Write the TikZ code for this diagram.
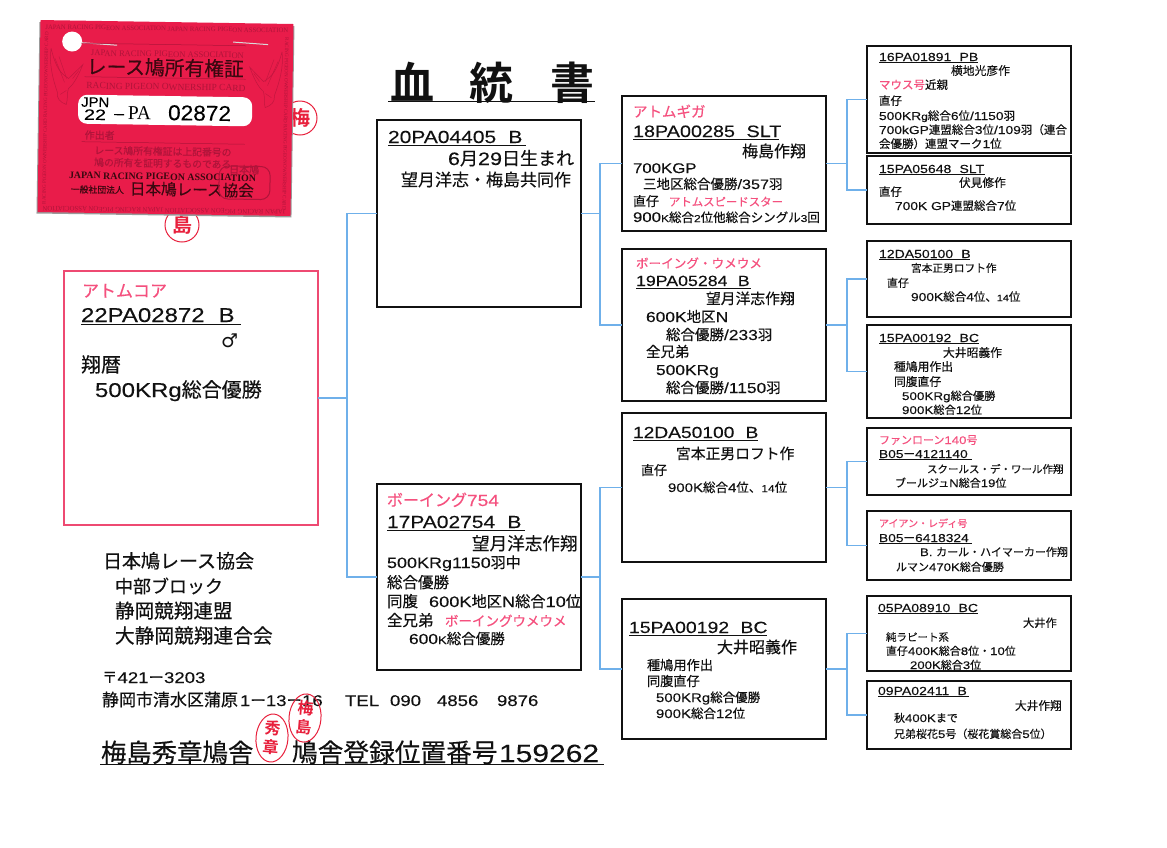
\documentclass[tikz,border=0pt]{standalone}
\usepackage{graphicx}
\usepackage{fontspec}
\usetikzlibrary{shapes.geometric}
\setmainfont{Liberation Sans}[FakeStretch=1.2,FakeBold=0.12]
\newfontfamily\jp{Noto Sans CJK JP}[FakeBold=0.35]
\newfontfamily\jpb{Noto Sans CJK JP}[BoldFont={Noto Sans CJK JP Bold}]
\newfontfamily\cardserif{Liberation Serif}
\newfontfamily\sym{DejaVu Sans}
\definecolor{pinkc}{HTML}{F5507E}
\definecolor{mainb}{HTML}{EE4A72}
\definecolor{conc}{HTML}{6FB0EA}
\definecolor{inkc}{HTML}{111111}
\definecolor{cardc}{HTML}{E91C4A}
\definecolor{cardi}{HTML}{B0143A}
\definecolor{cardk}{HTML}{3A0810}
\definecolor{sealc}{HTML}{E8203C}
\newcommand\J[1]{{\jp #1}}
\newcommand\PK[1]{{\color{pinkc}\jp #1}}
\newcommand\smK[1]{{\fontsize{#1}{#1}\selectfont K}}
\newcommand\gap{\hspace{0.7em}}
\newcommand\sealb[1]{{\jpb\bfseries #1}}
\newcounter{tn}
\tikzset{
  txt/.style={anchor=base west,inner sep=0pt,outer sep=0pt,text=inkc},
  bx/.style={draw=inkc,line width=1.9pt,fill=white,inner sep=0pt,outer sep=0pt},
  conn/.style={draw=conc,line width=1.3pt,line join=miter},
  ul/.style={draw=inkc,line width=0.9pt},
  seal/.style={ellipse,draw=sealc,line width=1pt,inner sep=0pt,minimum width=32pt,minimum height=44pt,align=center,text=sealc,font=\fontsize{16}{19}\selectfont},
  cardtxt/.style={anchor=base west,inner sep=0pt,outer sep=0pt,transform shape},
}
\newcommand\TX[4]{\stepcounter{tn}\node[txt] (t\arabic{tn}) at (#1,#2) {\fontsize{#3}{#3}\selectfont #4};}
\newcommand\CT[6]{\stepcounter{tn}\node[cardtxt,text=#5,rotate=#6] (t\arabic{tn}) at (#1,#2) {\resizebox{#3pt}{!}{#4}};}
\newcommand\CH[5]{\stepcounter{tn}\node[cardtxt,text=black] (t\arabic{tn}) at (#1,#2) {\resizebox{#3pt}{#4pt}{#5}};}
\newcommand\UL[3]{\draw[ul] (#1,#3) -- (#2,#3);}
\newcommand\BX[6][bx]{\pgfmathsetmacro\bw{#5-#3}\pgfmathsetmacro\bh{#6-#4}%
  \node[#1,minimum width=\bw pt,minimum height=\bh pt] (#2) at ({(#3+#5)/2},{(#4+#6)/2}) {};}
\newcommand\EAGLE{%
  \draw[cardi!70!cardc,line width=.5pt] (50,50) .. controls (55,70) and (60,75) .. (68,80)
     .. controls (72,76) and (76,72) .. (82,66)
     .. controls (78,76) and (74,85) .. (68,90)
     .. controls (66,96) and (68,100) .. (66,106)
     .. controls (60,104) and (56,100) .. (57,94)
     .. controls (52,80) and (48,65) .. (50,50);
  \draw[cardi!70!cardc,line width=.4pt] (54,60) -- (64,84) (58,58) -- (66,80) (72,80) -- (78,72) (60,96) -- (66,92);
}
\begin{document}
\begin{tikzpicture}[x=1pt,y=-1pt]
\path[use as bounding box,fill=white] (0,0) rectangle (1167,847);

% partial seals behind the card
\node[circle,draw=sealc,line width=1pt,minimum size=34pt,inner sep=0pt,text=sealc] (sa) at (300,118) {\fontsize{20}{20}\selectfont\sealb{梅}};
\node[circle,draw=sealc,line width=1pt,minimum size=34pt,inner sep=0pt,text=sealc] (sb) at (182,225) {\fontsize{20}{20}\selectfont\sealb{島}};

% card
\begin{scope}[rotate around={-0.9:(165,118)}]
  \fill[black!40] (38,24) rectangle (293,215.5);
  \fill[cardc] (39,22) rectangle (292,214);
  \EAGLE
  \begin{scope}[xshift=331pt,xscale=-1]\EAGLE\end{scope}
  \CT{44}{31}{243}{\cardserif JAPAN RACING PIGEON ASSOCIATION JAPAN RACING PIGEON ASSOCIATION}{cardi}{0}
  \CT{287}{208}{243}{\cardserif JAPAN RACING PIGEON ASSOCIATION JAPAN RACING PIGEON ASSOCIATION}{cardi}{180}
  \CT{47}{206}{172}{\cardserif RACING PIGEON OWNERSHIP CARD RACING PIGEON OWNERSHIP CARD}{cardi}{90}
  \CT{284}{36}{172}{\cardserif RACING PIGEON OWNERSHIP CARD RACING PIGEON OWNERSHIP CARD}{cardi}{-90}
  \fill[white] (71,43) circle (10);
  \draw[white!85!black,line width=1pt] (81,44) -- (116,46);
  \draw[white!85!black,line width=1pt] (232,41) -- (267,43);
  \draw[cardi,line width=.5pt] (80,44.5) -- (245,44.5) (84,78) -- (245,78) (82,143) -- (245,143);
  \CT{90}{57}{153}{\cardserif JAPAN RACING PIGEON ASSOCIATION}{cardi}{0}
  \CT{86}{75}{157}{\J{レース鳩所有権証}}{cardk}{0}
  \CT{86}{90}{159}{\cardserif RACING PIGEON OWNERSHIP CARD}{cardi}{0}
  \fill[white,rounded corners=9pt] (78,96) rectangle (252,125);
  \CH{81}{108}{28}{9.5}{JPN}
  \CH{84}{121}{22}{10.5}{22}
  \CH{114}{116}{10}{1.2}{\rule{10pt}{1.2pt}}
  \CH{128}{120}{23}{13}{\cardserif PA}
  \CH{168}{120}{63}{15}{02872}
  \CT{85}{140}{30}{\J{作出者}}{cardi}{0}
  \CT{95}{155}{137}{\J{レース鳩所有権証は上記番号の}}{cardi}{0}
  \CT{95}{167}{137}{\J{鳩の所有を証明するものである}}{cardi}{0}
  \CT{70}{180}{187}{\cardserif\bfseries JAPAN RACING PIGEON ASSOCIATION}{cardk}{0}
  \CT{72}{194}{53}{\J{一般社団法人}}{cardk}{0}
  \CT{131}{195}{124}{\J{日本鳩レース協会}}{cardk}{0}
  \draw[cardi,line width=1pt,rounded corners=9pt] (220,165) rectangle (271,198);
  \CT{230}{172}{30}{\J{日本鳩}}{cardi}{0}
\end{scope}

% title
\TX{390}{99}{44}{{\jpb\bfseries 血}}
\TX{469}{99}{44}{{\jpb\bfseries 統}}
\TX{550}{99}{44}{{\jpb\bfseries 書}}
\draw[inkc,line width=1.8pt] (388,101.5) -- (595,101.5);

% boxes
\BX[bx,draw=mainb,line width=2.6pt]{main}{64}{271}{318}{525}
\BX{a}{377}{120}{581}{307}
\BX{b}{377}{484}{581}{670}
\BX{c1}{622}{96}{826}{231}
\BX{c2}{622}{249}{826}{401}
\BX{c3}{622}{413}{826}{562}
\BX{c4}{622}{599}{826}{739}
\BX{r1}{867}{46}{1071}{153}
\BX{r2}{867}{156}{1071}{224}
\BX{r3}{867}{241}{1071}{317}
\BX{r4}{867}{325}{1071}{418}
\BX{r5}{867}{428}{1071}{495}
\BX{r6}{867}{511}{1071}{580}
\BX{r7}{867}{596}{1071}{671}
\BX{r8}{867}{681}{1071}{749}

% connectors
\coordinate (j0) at (347,398);
\coordinate (ja) at (600,213.5);
\coordinate (jb) at (600,577);
\coordinate (j1) at (847,163.5);
\coordinate (j2) at (847,325);
\coordinate (j3) at (847,487.5);
\coordinate (j4) at (847,669);
\draw[conn] (main.east) -- (j0); \draw[conn] (a.west) -| (j0) |- (b.west);
\draw[conn] (a.east) -- (ja);    \draw[conn] (c1.west) -| (ja) |- (c2.west);
\draw[conn] (b.east) -- (jb);    \draw[conn] (c3.west) -| (jb) |- (c4.west);
\draw[conn] (c1.east) -- (j1);   \draw[conn] (r1.west) -| (j1) |- (r2.west);
\draw[conn] (c2.east) -- (j2);   \draw[conn] (r3.west) -| (j2) |- (r4.west);
\draw[conn] (c3.east) -- (j3);   \draw[conn] (r5.west) -| (j3) |- (r6.west);
\draw[conn] (c4.east) -- (j4);   \draw[conn] (r7.west) -| (j4) |- (r8.west);

% main
\TX{82}{297}{17}{\PK{アトムコア}}
\TX{81}{322}{20}{22PA02872\gap B}
\UL{81}{241}{324.5}
\TX{221}{347}{19}{{\sym ♂}}
\TX{81}{372}{20}{\J{翔暦}}
\TX{95}{397}{20}{500KRg\J{総合優勝}}

% A
\TX{388}{143}{17.5}{20PA04405\gap B}
\UL{388}{526}{145}
\TX{448}{165}{18}{6\J{月}29\J{日生まれ}}
\TX{401}{186}{17}{\J{望月洋志・梅島共同作}}

% B
\TX{387}{506}{16}{\PK{ボーイング}{\color{pinkc}754}}
\TX{387}{528}{17.5}{17PA02754\gap B}
\UL{387}{525}{530}
\TX{472}{550}{17.6}{\J{望月洋志作翔}}
\TX{387}{568}{15}{500KRg1150\J{羽中}}
\TX{387}{588}{15.5}{\J{総合優勝}}
\TX{387}{607}{15.5}{\J{同腹}}
\TX{429}{607}{15.2}{600K\J{地区}N\J{総合}10\J{位}}
\TX{387}{626}{15.5}{\J{全兄弟}}
\TX{445}{626}{13.5}{\PK{ボーイングウメウメ}}
\TX{409}{644}{14.5}{600\smK{11}\J{総合優勝}}

% C1
\TX{633}{117}{14.5}{\PK{アトムギガ}}
\TX{633}{137}{16.5}{18PA00285\gap SLT}
\UL{633}{779}{139}
\TX{742}{157}{16}{\J{梅島作翔}}
\TX{633}{173}{14}{700KGP}
\TX{643}{189}{13.5}{\J{三地区総合優勝}/357\J{羽}}
\TX{633}{206}{13}{\J{直仔}}
\TX{669}{206}{11.4}{\PK{アトムスピードスター}}
\TX{633}{222}{12.5}{{\fontsize{14}{14}\selectfont 900}\smK{10}\J{総合}{\fontsize{10}{10}\selectfont 2}\J{位他総合シングル}{\fontsize{10}{10}\selectfont 3}\J{回}}

% C2
\TX{636}{268}{12.6}{\PK{ボーイング・ウメウメ}}
\TX{636}{286}{14.8}{19PA05284\gap B}
\UL{636}{751}{288}
\TX{706}{304}{14.8}{\J{望月洋志作翔}}
\TX{646}{322}{14.5}{600K\J{地区}N}
\TX{666}{340}{14.5}{\J{総合優勝}/233\J{羽}}
\TX{646}{357}{14.5}{\J{全兄弟}}
\TX{656}{375}{14.5}{500KRg}
\TX{666}{393}{14.5}{\J{総合優勝}/1150\J{羽}}

% C3
\TX{633}{438}{16}{12DA50100\gap B}
\UL{633}{758}{440}
\TX{676}{459}{14.8}{\J{宮本正男ロフト作}}
\TX{641}{475}{13}{\J{直仔}}
\TX{668}{492}{12.5}{900K\J{総合}4\J{位、}{\fontsize{10}{10}\selectfont 14}\J{位}}

% C4
\TX{629}{633}{16.2}{15PA00192\gap BC}
\UL{629}{767}{635}
\TX{717}{653}{16}{\J{大井昭義作}}
\TX{647}{670}{13.2}{\J{種鳩用作出}}
\TX{647}{686}{13.2}{\J{同腹直仔}}
\TX{656}{702}{12.5}{500KRg\J{総合優勝}}
\TX{656}{718}{12.5}{900K\J{総合}12\J{位}}

% R1
\TX{879}{61}{11.7}{16PA01891\gap PB}
\UL{879}{978}{62.5}
\TX{951}{75}{11.8}{\J{横地光彦作}}
\TX{879}{89}{11.5}{\PK{マウス号}\J{近親}}
\TX{879}{105}{11.5}{\J{直仔}}
\TX{879}{120}{11.5}{500KR{\fontsize{10}{10}\selectfont g}\J{総合}6\J{位}/1150\J{羽}}
\TX{879}{134}{11.5}{700kGP\J{連盟総合}3\J{位}/109\J{羽（連合}}
\TX{879}{148}{11.5}{\J{会優勝）連盟マーク}1\J{位}}
% R2
\TX{879}{173}{11.7}{15PA05648\gap SLT}
\UL{879}{985}{174.5}
\TX{959}{187}{11.7}{\J{伏見修作}}
\TX{879}{196}{11.5}{\J{直仔}}
\TX{895}{210}{11.5}{700K GP\J{連盟総合}7\J{位}}
% R3
\TX{879}{258}{11.7}{12DA50100\gap B}
\UL{879}{970}{259.5}
\TX{911}{272}{10.7}{\J{宮本正男ロフト作}}
\TX{887}{287}{11}{\J{直仔}}
\TX{911}{301}{11.5}{900K\J{総合}4\J{位、}{\fontsize{9}{9}\selectfont 14}\J{位}}
% R4
\TX{879}{342}{11.7}{15PA00192\gap BC}
\UL{879}{979}{343.5}
\TX{943}{357}{11.8}{\J{大井昭義作}}
\TX{894}{371}{11.8}{\J{種鳩用作出}}
\TX{894}{386}{11.8}{\J{同腹直仔}}
\TX{902}{400}{11.2}{500KRg\J{総合優勝}}
\TX{902}{414}{11.2}{900K\J{総合}12\J{位}}
% R5
\TX{879}{444}{11}{\PK{ファンローン}{\color{pinkc}140}\PK{号}}
\TX{879}{458}{11.5}{B05\J{ー}4121140}
\UL{879}{972}{459.5}
\TX{927}{473}{10.5}{\J{スクールス・デ・ワール作翔}}
\TX{895}{487}{11}{\J{ブールジュ}N\J{総合}19\J{位}}
% R6
\TX{879}{527}{10}{\PK{アイアン・レディ号}}
\TX{879}{542}{11.5}{B05\J{ー}6418324}
\UL{879}{972}{543.5}
\TX{920}{556}{11}{B. \J{カール・ハイマーカー作翔}}
\TX{896}{571}{11}{\J{ルマン}470K\J{総合優勝}}
% R7
\TX{878}{612}{11.7}{05PA08910\gap BC}
\UL{878}{978}{613.5}
\TX{1023}{627}{11.3}{\J{大井作}}
\TX{886}{641}{10.5}{\J{純ラピート系}}
\TX{886}{655}{11}{\J{直仔}400K\J{総合}8\J{位・}10\J{位}}
\TX{910}{669}{11}{200K\J{総合}3\J{位}}
% R8
\TX{878}{695}{11.7}{09PA02411\gap B}
\UL{878}{969}{696.5}
\TX{1015}{710}{11.7}{\J{大井作翔}}
\TX{894}{722}{11}{\J{秋}400K\J{まで}}
\TX{894}{738}{11}{\J{兄弟桜花}5\J{号（桜花賞総合}5\J{位）}}

% address block
\TX{103}{568}{19}{\J{日本鳩レース協会}}
\TX{115}{593}{18}{\J{中部ブロック}}
\TX{115}{618}{19.6}{\J{静岡競翔連盟}}
\TX{115}{643}{19.7}{\J{大静岡競翔連合会}}
\TX{102}{683}{15.5}{\J{〒}421\J{ー}3203}
\TX{102}{706}{17}{\J{静岡市清水区蒲原}}
\TX{240}{706}{15.5}{1\J{ー}13\J{ー}16}
\TX{345}{706}{15.5}{TEL}
\TX{390}{706}{15.5}{090}
\TX{437}{706}{15.5}{4856}
\TX{497}{706}{15.5}{9876}
\TX{101}{762}{25.4}{\J{梅島秀章鳩舎}}
\TX{292}{762}{25.7}{\J{鳩舎登録位置番号}}
\TX{499}{762}{25}{159262}
\draw[inkc,line width=1.4pt] (100,764.5) -- (604,764.5);

% seals
\node[seal,rotate=-5] (s1) at (272,738) {\sealb{秀}\\\sealb{章}};
\node[seal,rotate=-5] (s2) at (305,718) {\sealb{梅}\\\sealb{島}};
\end{tikzpicture}
\end{document}
